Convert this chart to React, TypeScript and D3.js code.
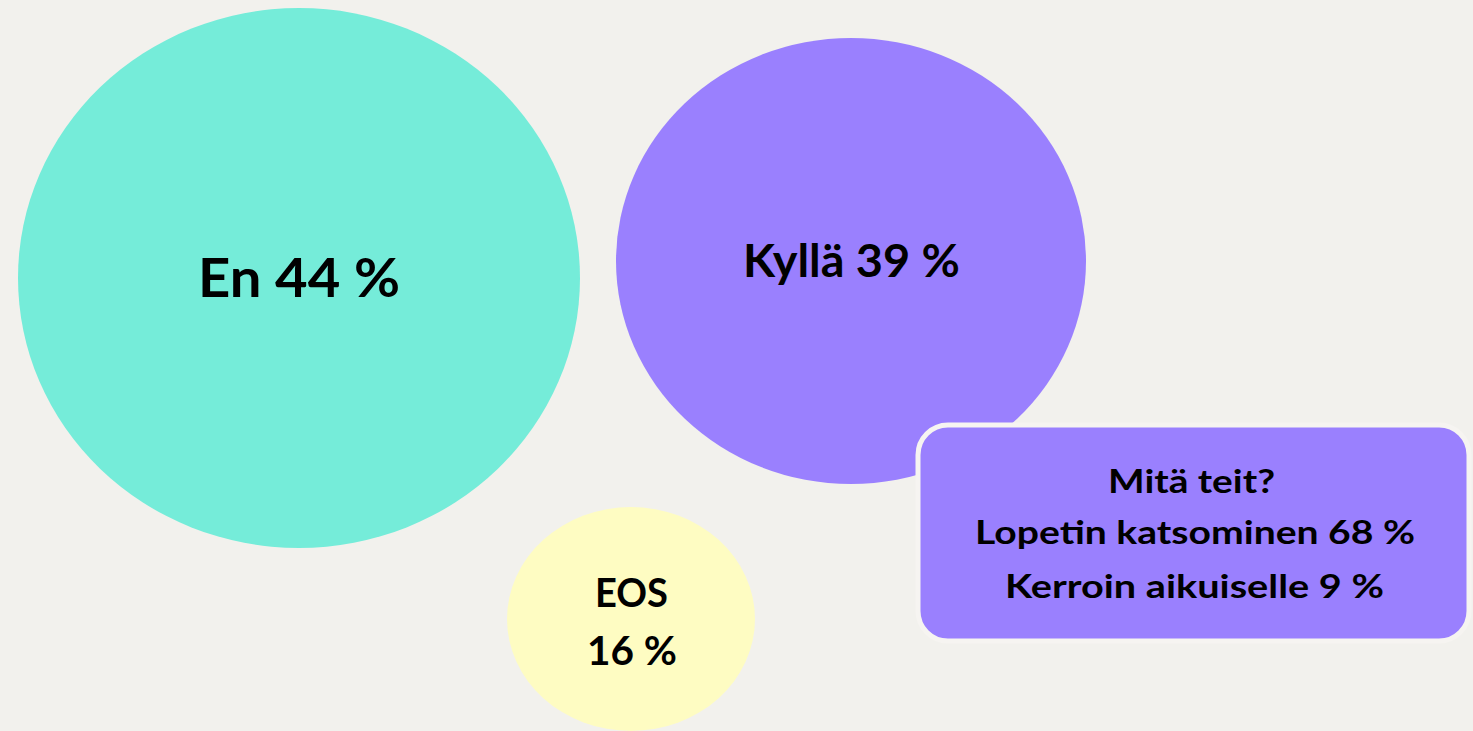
import React from "react";
import * as d3 from "d3";

const categories = ["En", "Kyllä", "EOS"];
const values = [44, 39, 16];
const bubbleColors = ["#75ecd9", "#9a80fe", "#fefcc2"];
// layout (px) for each bubble: center x, center y, rx, ry
const bubbleCx = [299, 851, 631];
const bubbleCy = [278, 261, 619];
const bubbleRx = [281, 235, 124];
const bubbleRy = [270, 223, 112];

const calloutTitle = "Mitä teit?";
const calloutItems = ["Lopetin katsominen", "Kerroin aikuiselle"];
const calloutValues = [68, 9];

const W = 1473;
const H = 731;
const FONT = "Lato, 'Open Sans', sans-serif";

export default function App() {
  const fmt = (v: number) => `${d3.format("d")(v)} %`;
  return (
    <svg
      width={W}
      height={H}
      style={{ position: "absolute", left: 0, top: 0, background: "#f2f1ed" }}
      fontFamily={FONT}
      fontWeight={700}
    >
      <rect x={0} y={0} width={W} height={H} fill="#f2f1ed" />
      {categories.map((c, i) => (
        <ellipse key={c} cx={bubbleCx[i]} cy={bubbleCy[i]} rx={bubbleRx[i]} ry={bubbleRy[i]} fill={bubbleColors[i]} />
      ))}
      {/* En */}
      <text x={198} y={297} fontSize={54} textLength={202} lengthAdjust="spacingAndGlyphs" fill="#000">
        {`${categories[0]} ${fmt(values[0])}`}
      </text>
      {/* Kyllä */}
      <text x={743} y={277} fontSize={45} textLength={217} lengthAdjust="spacingAndGlyphs" fill="#000">
        {`${categories[1]} ${fmt(values[1])}`}
      </text>
      {/* EOS */}
      <text x={595} y={607} fontSize={40} textLength={73} lengthAdjust="spacingAndGlyphs" fill="#000">
        {categories[2]}
      </text>
      <text x={587} y={665} fontSize={40} textLength={90} lengthAdjust="spacingAndGlyphs" fill="#000">
        {fmt(values[2])}
      </text>
      {/* callout */}
      <rect x={918} y={425} width={551} height={216} rx={30} ry={30} fill="#9a80fe" stroke="#f6f4f1" strokeWidth={5} />
      <text x={1108} y={493} fontSize={32} textLength={167} lengthAdjust="spacingAndGlyphs" fill="#000">
        {calloutTitle}
      </text>
      <text x={975} y={544} fontSize={32} textLength={440} lengthAdjust="spacingAndGlyphs" fill="#000">
        {`${calloutItems[0]} ${fmt(calloutValues[0])}`}
      </text>
      <text x={1005} y={598} fontSize={32} textLength={379} lengthAdjust="spacingAndGlyphs" fill="#000">
        {`${calloutItems[1]} ${fmt(calloutValues[1])}`}
      </text>
    </svg>
  );
}
